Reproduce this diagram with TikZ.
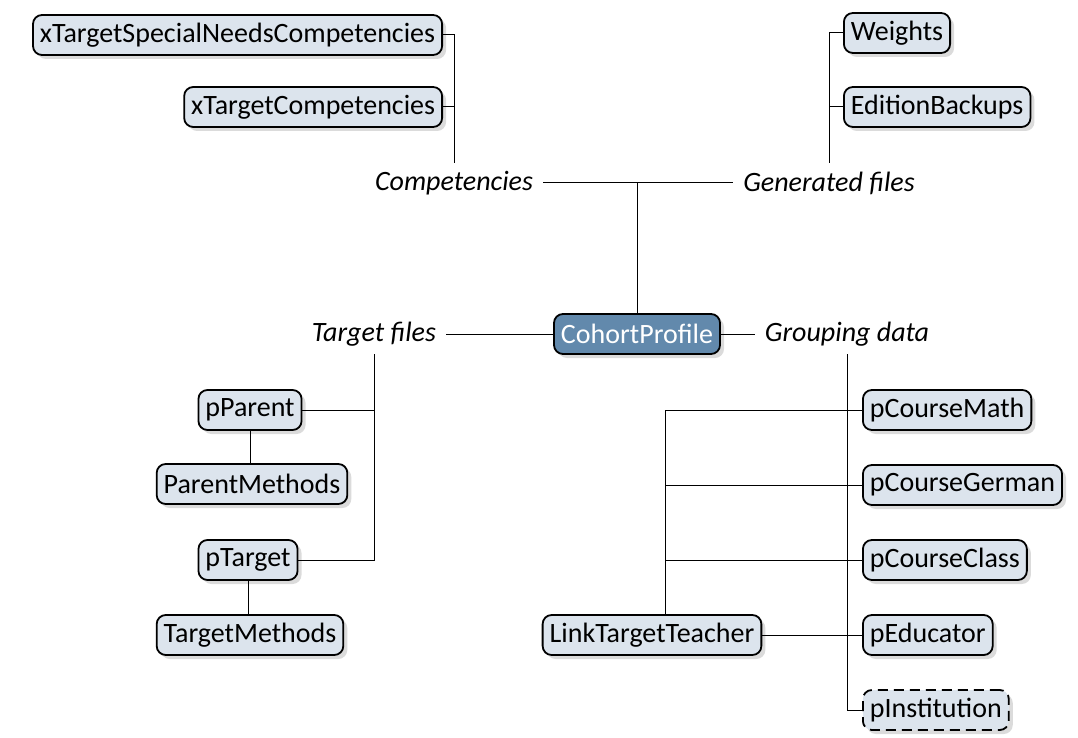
\documentclass[tikz,border=0pt]{standalone}
\usepackage{fontspec}
\setmainfont{Carlito}
\usetikzlibrary{shadows,positioning}

\definecolor{boxfill}{RGB}{220,228,237}
\definecolor{rootfill}{RGB}{98,137,172}

\newcommand\diagfont{\fontsize{28}{32}\selectfont}

\tikzset{
  table/.style={draw, line width=1.8pt, rounded corners=9pt, fill=boxfill,
    font=\diagfont, minimum height=40pt, inner xsep=7pt, inner ysep=0pt,
    drop shadow={shadow xshift=4pt, shadow yshift=-4pt, fill=black!28}},
  root/.style={table, fill=rootfill, text=white},
  optional/.style={table, dash pattern=on 10pt off 6pt},
  group/.style={font=\diagfont\itshape, inner xsep=10pt, inner ysep=8pt},
  link/.style={line width=1pt}
}

\begin{document}
\begin{tikzpicture}[x=1pt, y=-1pt]
  \useasboundingbox (0,0) rectangle (1078,738);

  % Root table
  \node[root] (cohort) at (637,334) {CohortProfile};

  % Group labels
  \node[group] (comp) at (454,183) {Competencies};
  \node[group] (gen) at (829,183) {Generated files};
  \node[group] (tfiles) at (374,334) {Target files};
  \node[group] (grp) at (847,334) {Grouping data};

  % Competencies
  \node[table, anchor=east] (xspec) at (443,35) {xTargetSpecialNeedsCompetencies};
  \node[table, anchor=east] (xcomp) at (443,107) {xTargetCompetencies};

  % Generated files
  \node[table, anchor=west] (weights) at (843,33) {Weights};
  \node[table, anchor=west] (backups) at (843,107) {EditionBackups};

  % Target files
  \node[table] (pparent) at (250,410) {pParent};
  \node[table] (pmethods) at (252,484) {ParentMethods};
  \node[table] (ptarget) at (248,560) {pTarget};
  \node[table] (tmethods) at (250,635) {TargetMethods};

  % Grouping data
  \node[table, anchor=west] (pmath) at (862,410) {pCourseMath};
  \node[table, anchor=west] (pgerman) at (862,485) {pCourseGerman};
  \node[table, anchor=west] (pclass) at (862,560) {pCourseClass};
  \node[table, anchor=west] (peducator) at (862,635) {pEducator};
  \node[optional, anchor=west] (pinst) at (862,710) {pInstitution};
  \node[table] (linkt) at (652,635) {LinkTargetTeacher};

  % Connections
  \draw[link] (comp.east) -- (gen.west);
  \draw[link] (cohort.north) -- (cohort.north |- comp.east);
  \draw[link] (tfiles.east) -- (cohort.west);
  \draw[link] (cohort.east) -- (grp.west);

  \draw[link] (xspec.east) -| (comp.north);
  \draw[link] (xcomp.east) -- (xcomp.east -| comp.north);
  \draw[link] (weights.west) -| (gen.north);
  \draw[link] (backups.west) -- (backups.west -| gen.north);

  \draw[link] (tfiles.south) |- (ptarget.east);
  \draw[link] (pparent.east) -- (pparent.east -| tfiles.south);
  \draw[link] (pparent.south) -- (pparent.south |- pmethods.north);
  \draw[link] (ptarget.south) -- (ptarget.south |- tmethods.north);

  \draw[link] (grp.south) |- (pinst.west);
  \foreach \n in {pmath,pgerman,pclass,peducator}
    \draw[link] (\n.west -| grp.south) -- (\n.west);

  \coordinate (hub) at ([xshift=13pt]linkt.north);
  \draw[link] (hub) |- (pmath.west);
  \foreach \n in {pgerman,pclass}
    \draw[link] (hub |- \n.west) -- (\n.west);
  \draw[link] (linkt.east) -- (peducator.west);
\end{tikzpicture}
\end{document}
